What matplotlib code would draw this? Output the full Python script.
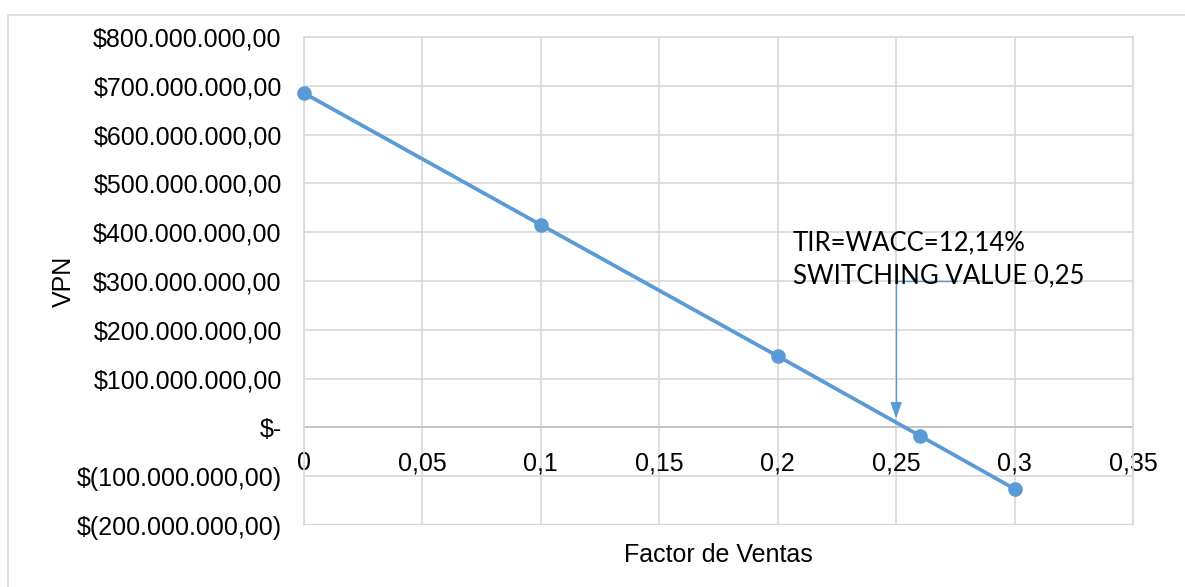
import matplotlib.pyplot as plt
from matplotlib.patches import Rectangle
from matplotlib.ticker import FuncFormatter, MultipleLocator

factor_ventas = [0.0, 0.1, 0.2, 0.26, 0.3]
vpn = [685e6, 415e6, 146e6, -17e6, -126e6]

x_ticks = [0, 0.05, 0.1, 0.15, 0.2, 0.25, 0.3, 0.35]
note_lines = ["TIR=WACC=12,14%", "SWITCHING VALUE 0,25"]
switching_value = 0.25

blue = '#5B9BD5'
grid_grey = '#D9D9D9'


def money(v, pos=None):
    """ Excel accounting style labels """
    if v == 0:
        return '$-'
    s = f"{abs(v):,.2f}".replace(',', 'X').replace('.', ',').replace('X', '.')
    return f"$({s})" if v < 0 else f"${s}"


def num(v, pos=None):
    return f"{v:g}".replace('.', ',')


fig = plt.figure(figsize=(11.85, 5.87), dpi=100)
ax = fig.add_axes([304 / 1185, 1 - 525 / 587, 829 / 1185, 488 / 587])

# outer chart border
fig.patches.append(Rectangle((8 / 1185, -0.05), 1.1, 1.05 - 15 / 587, transform=fig.transFigure,
                             fill=False, edgecolor=grid_grey, linewidth=1.2))

ax.plot(factor_ventas, vpn, color=blue, linewidth=2.7, marker='o', markersize=9.5, zorder=4,
        clip_on=False)

ax.set_xlim(0, 0.35)
ax.set_ylim(-200e6, 800e6)
ax.set_xticks(x_ticks)
ax.yaxis.set_major_locator(MultipleLocator(100e6))
ax.xaxis.set_major_formatter(FuncFormatter(num))
ax.yaxis.set_major_formatter(FuncFormatter(money))
ax.grid(True, color=grid_grey, linewidth=1.2)
ax.set_axisbelow(True)

for side in ('top', 'right', 'left'):
    ax.spines[side].set_color(grid_grey)
    ax.spines[side].set_linewidth(1.2)
ax.spines['bottom'].set_position(('data', 0))
ax.spines['bottom'].set_color('#BFBFBF')
ax.spines['bottom'].set_linewidth(1.2)
ax.spines['bottom'].set_zorder(2)
# bottom frame line
ax.axhline(-200e6, color=grid_grey, linewidth=2.4, zorder=1)

ax.tick_params(axis='both', length=0, labelsize=18, colors='black')
ax.tick_params(axis='x', pad=17)
ax.tick_params(axis='y', pad=16)
for lbl in ax.get_xticklabels() + ax.get_yticklabels():
    lbl.set_family('Liberation Sans')

ax.set_ylabel('VPN', fontsize=18, family='Liberation Sans')
ax.yaxis.set_label_coords(-0.275, 0.5)
ax.set_xlabel('Factor de Ventas', fontsize=18, family='Liberation Sans')
ax.xaxis.set_label_coords(0.5, -0.037)

# switching value callout
ax.plot([0.2757, switching_value, switching_value], [300e6, 300e6, 45e6], color=blue,
        linewidth=1.0, zorder=3)
ax.annotate('', xy=(switching_value, 18e6), xytext=(switching_value, 48e6),
            arrowprops=dict(arrowstyle='-|>,head_length=1.0,head_width=0.35', color=blue,
                            linewidth=1.0, shrinkA=0, shrinkB=0), zorder=3)
ax.text(0.2064, 403e6, note_lines[0] + '\n' + note_lines[1], fontsize=18.5, family='Lato',
        va='top', ha='left', linespacing=1.38, zorder=5)

fig.savefig('out.png', dpi=100)
